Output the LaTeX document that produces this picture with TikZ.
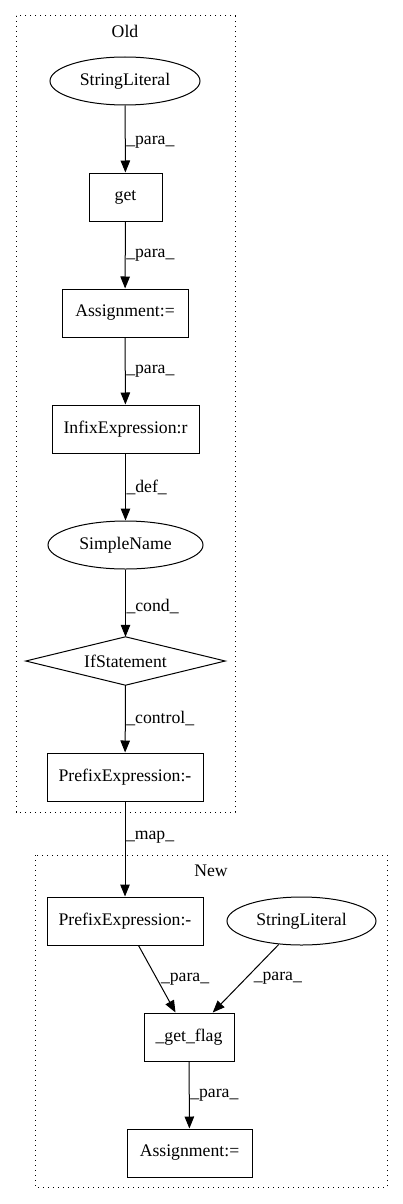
\documentclass[tikz,border=0pt]{standalone}
\usepackage{fontspec}
\setmainfont{Liberation Serif}
\usetikzlibrary{arrows.meta,shapes.geometric}
\begin{document}
\begin{tikzpicture}[x=1pt,y=1pt,
  every node/.style={font=\fontsize{17.7}{20}\selectfont, inner sep=0pt},
  box/.style={draw, line width=1pt, rectangle, minimum height=48pt},
  oval/.style={draw, line width=1pt, ellipse, minimum height=48pt},
  ghost/.style={rectangle, minimum height=48pt},
  cluster/.style={draw, line width=1pt, dash pattern=on 1.2pt off 3.8pt},
  edge/.style={draw, line width=1pt, -{Triangle[length=12pt,width=9.5pt]}},
  lbl/.style={anchor=west, xshift=0.5pt}]
\useasboundingbox (0,0) rectangle (403,-1204);
% clusters
\draw[cluster] (16,-16) rectangle (235,-812);
\node (oldt) at (125,-31) {Old};
\draw[cluster] (35,-855) rectangle (387,-1187);
\node (newt) at (211,-871) {New};
% old nodes
\node[oval, minimum width=150pt] (osl) at (125,-81) {StringLiteral};
\node[box, minimum width=73pt] (oget) at (125.5,-197) {get};
\node[box, minimum width=126pt] (oasg) at (125,-313) {Assignment:=};
\node[box, minimum width=147pt] (oinf) at (125.5,-429) {InfixExpression:r};
\node[oval, minimum width=155pt] (osn) at (125.5,-545) {SimpleName};
\node[ghost, minimum width=199pt] (oif) at (125.5,-661) {IfStatement};
\draw[line width=1pt] (oif.north) -- (oif.east) -- (oif.south) -- (oif.west) -- cycle;
\node[box, minimum width=156pt] (opre) at (125,-777) {PrefixExpression:-};
% new nodes
\node[box, minimum width=156pt] (npre) at (125,-921) {PrefixExpression:-};
\node[oval, minimum width=149pt] (nsl) at (301.5,-921) {StringLiteral};
\node[box, minimum width=90pt] (ngf) at (189,-1037) {\_get\_flag};
\node[box, minimum width=125pt] (nasg) at (189.5,-1153) {Assignment:=};
% edges
\draw[edge] (osl) -- node[lbl, pos=0.55] {\_para\_} (oget);
\draw[edge] (oget) -- node[lbl, pos=0.5] {\_para\_} (oasg);
\draw[edge] (oasg) -- node[lbl, pos=0.5] {\_para\_} (oinf);
\draw[edge] (oinf) -- node[lbl, pos=0.5] {\_def\_} (osn);
\draw[edge] (osn) -- node[lbl, pos=0.55] {\_cond\_} (oif.north);
\draw[edge] (oif.south) -- node[lbl, pos=0.5] {\_control\_} (opre);
\draw[edge] (opre) -- node[lbl, pos=0.38] {\_map\_} (npre);
\draw[edge] (npre) -- node[lbl, pos=0.5, xshift=3pt] {\_para\_} (ngf);
\draw[edge] (nsl) -- node[lbl, pos=0.5, xshift=7pt] {\_para\_} (ngf);
\draw[edge] (ngf) -- node[lbl, pos=0.5] {\_para\_} (nasg);
\end{tikzpicture}
\end{document}
